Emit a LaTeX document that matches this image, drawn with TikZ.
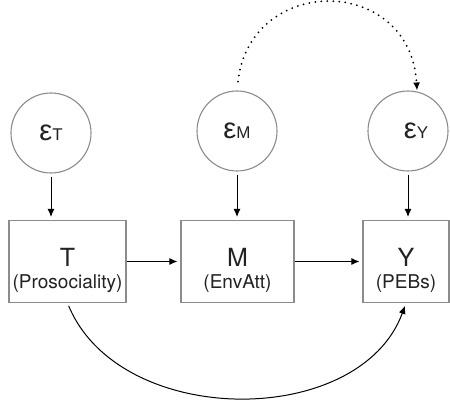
\documentclass[tikz,border=0pt]{standalone}
\usepackage{fontspec}
\setmainfont{TeX Gyre Heros}
\newfontfamily\epsfont{Liberation Sans}
\usetikzlibrary{arrows.meta}
\definecolor{edgegray}{HTML}{8C8C8C}
\definecolor{txt}{HTML}{222222}
\tikzset{
  err/.style={circle, draw=edgegray, line width=1.1pt, minimum size=80pt, inner sep=0pt, text=txt},
  var/.style={rectangle, draw=edgegray, line width=1.1pt, inner sep=0pt, text=txt},
  big/.style={font=\fontsize{25}{25}\selectfont, text=txt, inner sep=0pt, anchor=base},
  small/.style={font=\fontsize{19}{19}\selectfont, text=txt, inner sep=0pt, anchor=base},
  arr/.style={-{Latex[length=8pt,width=7pt]}, line width=1pt, black},
  dotarr/.style={-{Latex[length=8pt,width=7pt]}, line width=2pt, black, dash pattern=on 0pt off 6pt, line cap=round}
}
\newcommand{\epsl}[1]{{\epsfont\fontsize{29}{29}\selectfont ε{\fontsize{17}{17}\selectfont #1}}}
\begin{document}
\begin{tikzpicture}[x=1pt,y=-1pt]
\useasboundingbox (0,0) rectangle (450,406);
\fill[white] (0,0) rectangle (450,406);
% error circles
\node[err] (eT) at (51,133) {\epsl{T}};
\node[err] (eM) at (237,131) {\epsl{M}};
\node[err] (eY) at (408,131) {\hspace*{16pt}\epsl{Y}};
% boxes
\node[var, minimum width=117pt, minimum height=82pt] (T) at (67.5,261.5) {};
\node[var, minimum width=113pt, minimum height=82pt] (M) at (237.5,261.5) {};
\node[var, minimum width=86pt, minimum height=82pt] (Y) at (406,261.5) {};
% labels
\node[big] (Tl) at (67.5,267) {T};
\node[small] (Ts) at (67.5,288) {(Prosociality)};
\node[big] (Ml) at (237.5,267) {M};
\node[small] (Ms) at (237.5,288) {(EnvAtt)};
\node[big] (Yl) at (406,267) {Y};
\node[small] (Ys) at (406,288) {(PEBs)};
% arrows
\draw[arr, shorten <=3pt, shorten >=3pt] (eT.south) -- (eT.south |- T.north);
\draw[arr, shorten <=3pt, shorten >=3pt] (eM.south) -- (eM.south |- M.north);
\draw[arr, shorten <=3pt, shorten >=3pt] (eY.south) -- (eY.south |- Y.north);
\draw[arr, shorten >=3pt] (T.east) -- (M.west);
\draw[arr, shorten >=3pt] (M.east) -- (Y.west);
\draw[arr, shorten <=3pt, shorten >=3pt] (T.south) .. controls (120,429) and (360,429) .. (Y.south);
\draw[dotarr, shorten <=9pt, shorten >=1pt] (eM.north) .. controls (250,-26) and (410,-26) .. (eY.77);
\end{tikzpicture}
\end{document}
